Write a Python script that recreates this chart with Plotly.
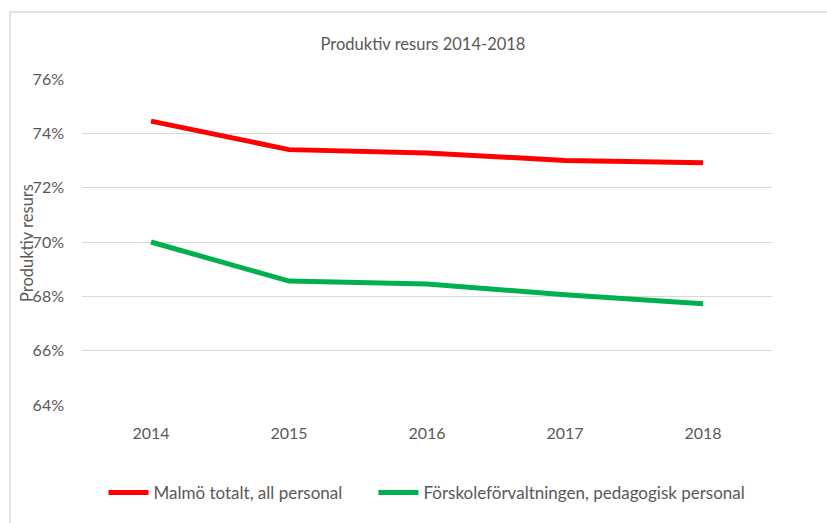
import plotly.graph_objects as go

years = ["2014", "2015", "2016", "2017", "2018"]
malmo = [74.45, 73.40, 73.28, 73.00, 72.92]
forskole = [70.00, 68.56, 68.45, 68.06, 67.73]
series_names = ["Malmö totalt, all personal", "Förskoleförvaltningen, pedagogisk personal"]
y_ticks = [64, 66, 68, 70, 72, 74, 76]
y_tick_labels = [f"{v}%" for v in y_ticks]

FONT = "Lato, Open Sans, sans-serif"
GREY = "#595959"

fig = go.Figure()
fig.add_trace(go.Scatter(x=years, y=malmo, mode="lines", name=series_names[0] + "\u00a0" * 6,
                         line=dict(color="#FF0000", width=5)))
fig.add_trace(go.Scatter(x=years, y=forskole, mode="lines", name=series_names[1],
                         line=dict(color="#00B050", width=5)))

W, H = 827, 523
L, R, T, B = 82, 55, 79, 118
pw, ph = W - L - R, H - T - B

def px_x(p):
    return (p - L) / pw

def px_y(p):
    return (H - B - p) / ph

fig.update_layout(
    width=W, height=H,
    margin=dict(l=L, r=R, t=T, b=B),
    paper_bgcolor="white", plot_bgcolor="white",
    font=dict(family=FONT, color=GREY, size=16),
    title=dict(text="Produktiv resurs 2014-2018", xref="container", x=423 / W, xanchor="center",
               yref="container", y=1 - 44 / H, yanchor="middle", font=dict(size=16.5, color=GREY)),
    xaxis=dict(type="category", range=[-0.5, 4.5], showgrid=False, zeroline=False,
               showline=False, ticks="", ticklabelstandoff=17, tickfont=dict(size=16, color=GREY)),
    yaxis=dict(range=[64, 76], tickvals=y_ticks, ticktext=y_tick_labels,
               showgrid=True, gridcolor="#d9d9d9", gridwidth=1.3, zeroline=False,
               showline=False, ticks="", ticklabelstandoff=17, tickfont=dict(size=16, color=GREY)),
    showlegend=True,
    legend=dict(orientation="h", x=px_x(427), xanchor="center", y=px_y(493), yanchor="middle",
                font=dict(size=17, color=GREY), itemwidth=40, traceorder="normal"),
    annotations=[dict(text="Produktiv resurs", textangle=-90, xref="paper", yref="paper",
                      x=px_x(27), y=px_y(243), showarrow=False, xanchor="center", yanchor="middle",
                      font=dict(size=16.5, color=GREY))],
    shapes=[dict(type="rect", xref="paper", yref="paper",
                 x0=px_x(10), x1=px_x(W + 20), y0=px_y(H + 20), y1=px_y(12),
                 line=dict(color="#d9d9d9", width=1.5), fillcolor="rgba(0,0,0,0)", layer="below")],
)

fig.write_html("out.html", config={"displayModeBar": False},
               post_script="document.body.style.margin='0';document.body.style.padding='0';")
